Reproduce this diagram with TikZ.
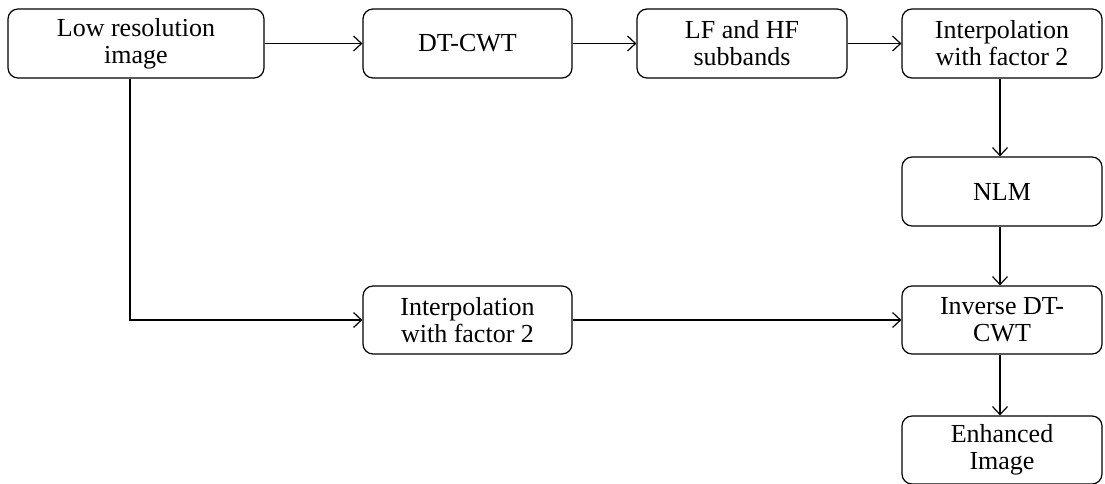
\documentclass[tikz,border=0pt]{standalone}
\usepackage{fontspec}
\setmainfont{Liberation Serif}
\tikzset{
  blk/.style={draw, rounded corners=10pt, line width=1.2pt, align=center,
    inner sep=2pt, font=\fontsize{26}{27}\selectfont},
  flow/.style={->, line width=1.2pt, >={Straight Barb[length=8pt,width=15pt]}}
}
\usetikzlibrary{arrows.meta}
\begin{document}
\begin{tikzpicture}[x=1pt,y=-1pt]
  \useasboundingbox (0,0) rectangle (1105,483);

  %% top row
  \node[blk, minimum width=256pt, minimum height=69pt] (low) at (136,43.5) {Low resolution\\image};
  \node[blk, minimum width=209pt, minimum height=69pt] (dtcwt) at (467.5,43.5) {DT-CWT};
  \node[blk, minimum width=210pt, minimum height=69pt] (lfhf) at (742,43.5) {LF and HF\\subbands};
  \node[blk, minimum width=200pt, minimum height=69pt] (interpA) at (1002,43.5) {Interpolation\\with factor 2};

  %% right column
  \node[blk, minimum width=200pt, minimum height=69pt] (nlm) at (1002,191.5) {NLM};
  \node[blk, minimum width=200pt, minimum height=68pt] (inv) at (1002,320) {Inverse DT-\\CWT};
  \node[blk, minimum width=200pt, minimum height=68pt] (enh) at (1002,450) {Enhanced\\Image};

  %% middle row
  \node[blk, minimum width=209pt, minimum height=68pt] (interpB) at (467.5,320) {Interpolation\\with factor 2};

  %% connectors
  \draw[flow] (low) -- (dtcwt);
  \draw[flow] (dtcwt) -- (lfhf);
  \draw[flow] (lfhf) -- (interpA);
  \draw[flow] ([xshift=-2pt]interpA.south) -- ([xshift=-2pt]nlm.north);
  \draw[flow] ([xshift=-2pt]nlm.south) -- ([xshift=-2pt]inv.north);
  \draw[flow] ([xshift=-2pt]inv.south) -- ([xshift=-2pt]enh.north);
  \draw[flow] ([xshift=-6pt]low.south) |- (interpB.west);
  \draw[flow] (interpB) -- (inv);
\end{tikzpicture}
\end{document}
